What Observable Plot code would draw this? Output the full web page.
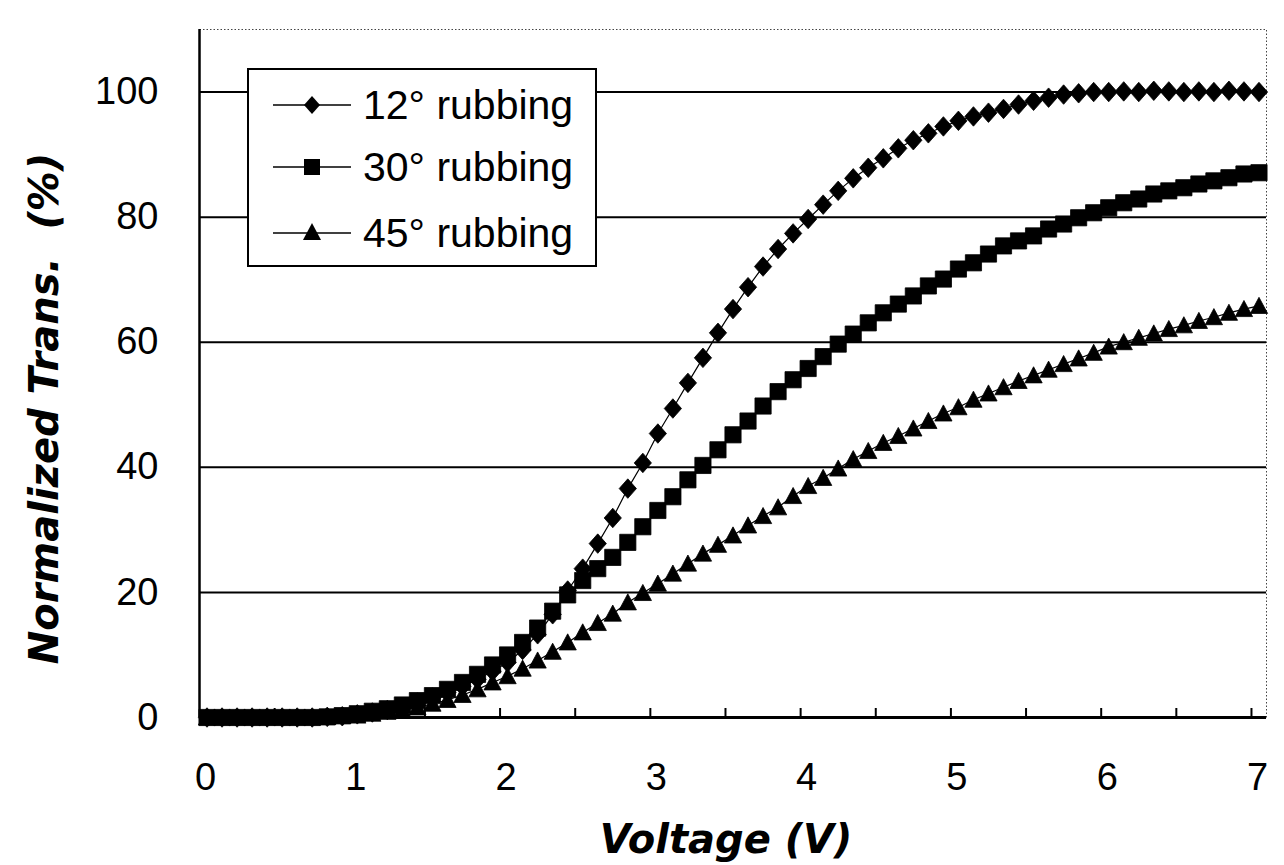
<!DOCTYPE html>
<html>
<head>
<meta charset="utf-8">
<script src="https://cdn.jsdelivr.net/npm/d3@7"></script>
<script src="https://cdn.jsdelivr.net/npm/@observablehq/plot@0.6"></script>
<style>
  body { margin: 0; background: #fff; }
  #wrap { position: relative; width: 1284px; height: 865px; }
  #legend {
    position: absolute; left: 247px; top: 68px; width: 346px; height: 195px;
    border: 2px solid #000; background: #fff;
    font-family: "Liberation Sans", Arial, sans-serif; font-size: 41px; color: #000;
  }
  .item { position: absolute; left: 24px; height: 48px; display: flex; align-items: center; white-space: nowrap; }
  .item svg { margin-right: 12px; }
</style>
</head>
<body>
<div id="wrap"></div>
<script>
// ---- data ----
const voltage = d3.range(71).map(i => Math.round((0.05 + 0.1 * i) * 100) / 100);

const rub12 = [
  0, 0, 0, 0, 0, 0, 0, 0, 0.1, 0.2,
  0.5, 0.8, 1.2, 1.7, 2.4, 3.2, 4.0, 5.0, 6.1, 7.4,
  8.8, 10.8, 13.3, 16.5, 20.3, 23.8, 27.8, 31.9, 36.6, 40.7,
  45.4, 49.4, 53.5, 57.5, 61.5, 65.3, 68.8, 72.1, 74.9, 77.4,
  79.7, 82.0, 84.2, 86.2, 87.9, 89.4, 91.0, 92.3, 93.4, 94.5,
  95.4, 96.1, 96.7, 97.3, 98.0, 98.6, 99.1, 99.6, 99.8, 100.0,
  100.0, 100.1, 100.0, 100.2, 100.1, 100.0, 100.1, 100.0, 100.2, 100.1, 100.0
];
const rub30 = [
  0, 0, 0, 0, 0, 0, 0, 0, 0.1, 0.3,
  0.6, 1.0, 1.4, 2.0, 2.7, 3.5, 4.5, 5.6, 6.9, 8.4,
  10.0, 12.0, 14.3, 17.0, 19.6, 21.9, 23.8, 25.6, 28.0, 30.5,
  33.1, 35.3, 38.0, 40.3, 42.8, 45.2, 47.4, 49.8, 52.1, 54.0,
  55.8, 57.7, 59.7, 61.3, 63.1, 64.7, 66.1, 67.4, 69.0, 70.1,
  71.7, 72.7, 74.1, 75.4, 76.2, 77.0, 78.1, 78.9, 79.9, 80.7,
  81.5, 82.3, 82.9, 83.7, 84.2, 84.7, 85.3, 85.8, 86.3, 86.9, 87.1
];
const rub45 = [
  0, 0, 0, 0, 0, 0, 0, 0, 0.1, 0.2,
  0.3, 0.6, 0.9, 1.2, 1.6, 2.2, 2.8, 3.6, 4.5, 5.6,
  6.6, 7.8, 9.1, 10.5, 12.0, 13.6, 15.1, 16.6, 18.4, 19.9,
  21.4, 23.0, 24.6, 26.2, 27.6, 29.1, 30.7, 32.2, 33.6, 35.4,
  37.0, 38.3, 39.8, 41.3, 42.6, 43.9, 45.0, 46.2, 47.4, 48.6,
  49.6, 50.8, 51.8, 52.8, 53.8, 54.7, 55.6, 56.5, 57.4, 58.3,
  59.3, 60.0, 60.7, 61.4, 62.1, 62.7, 63.4, 64.0, 64.7, 65.3, 65.8
];
const seriesNames = ["12° rubbing", "30° rubbing", "45° rubbing"];
const xTickLabels = [0, 1, 2, 3, 4, 5, 6, 7];
const xTickMarks = [0.5, 1, 1.5, 2, 2.5, 3, 3.5, 4, 4.5, 5, 5.5, 6, 6.5, 7];
const yTickLabels = [0, 20, 40, 60, 80, 100];
const yGridLines = [20, 40, 60, 80, 100];
const xTitle = "Voltage (V)";
const yTitle = "Normalized Trans.  (%)";

// ---- marker symbols ----
const diamondSym = { draw(ctx, size) { const r = Math.sqrt(size / Math.PI); const w = r * 1.15, h = r * 1.3;
  ctx.moveTo(0, -h); ctx.lineTo(w, 0); ctx.lineTo(0, h); ctx.lineTo(-w, 0); ctx.closePath(); } };
const squareSym = { draw(ctx, size) { const r = Math.sqrt(size / Math.PI); const s = r * 1.08;
  ctx.moveTo(-s, -s); ctx.lineTo(s, -s); ctx.lineTo(s, s); ctx.lineTo(-s, s); ctx.closePath(); } };
const triangleSym = { draw(ctx, size) { const r = Math.sqrt(size / Math.PI); const w = r * 1.15;
  ctx.moveTo(0, -r * 1.15); ctx.lineTo(w, r); ctx.lineTo(-w, r); ctx.closePath(); } };
const symbols = [diamondSym, squareSym, triangleSym];
const values = [rub12, rub30, rub45];

const rows = seriesNames.map((name, s) => voltage.map((v, i) => ({ series: name, v, t: values[s][i] })));

const seriesMarks = [2, 1, 0].flatMap(s => [
  Plot.line(rows[s], { x: "v", y: "t", stroke: "#000", strokeWidth: 1.2 }),
  Plot.dot(rows[s], { x: "v", y: "t", symbol: symbols[s], r: 7.5, fill: "#000", stroke: "#000", strokeWidth: 0.8 })
]);

const tickFont = "'Liberation Sans', Arial, sans-serif";
const titleFont = "'DejaVu Sans', sans-serif";

const chart = Plot.plot({
  width: 1284,
  height: 865,
  marginLeft: 199,
  marginRight: 18,
  marginTop: 29,
  marginBottom: 148,
  style: { background: "#fff", color: "#000", fontFamily: tickFont },
  x: { domain: [0, 7.1] },
  y: { domain: [0, 110] },
  marks: [
    Plot.frame({ stroke: "#444", strokeWidth: 1, strokeDasharray: "1.5,2" }),
    Plot.ruleY(yGridLines, { stroke: "#000", strokeWidth: 2 }),
    ...seriesMarks,
    Plot.ruleX([0], { stroke: "#000", strokeWidth: 2.5 }),
    Plot.ruleY([0], { stroke: "#000", strokeWidth: 3 }),
    Plot.axisX({ ticks: xTickMarks, tickSize: -9, tickFormat: () => "", strokeWidth: 2, label: null }),
    Plot.axisX({ ticks: xTickLabels, tickSize: 0, tickPadding: 46, dx: 6, fontSize: 38, fontFamily: tickFont, label: null }),
    Plot.axisY({ ticks: yTickLabels, tickSize: 0, tickPadding: 41, fontSize: 38, fontFamily: tickFont, label: null }),
    Plot.text([xTitle], { frameAnchor: "bottom", textAnchor: "middle", dx: -7, dy: 135, fontSize: 40, fontWeight: "bold", fontStyle: "italic", fontFamily: titleFont, fill: "#000" }),
    Plot.text([yTitle], { frameAnchor: "left", textAnchor: "middle", lineAnchor: "middle", rotate: -90, dx: -154, dy: 35, fontSize: 40, fontWeight: "bold", fontStyle: "italic", fontFamily: titleFont, fill: "#000" })
  ]
});

const wrap = document.getElementById("wrap");
wrap.appendChild(chart);

// ---- legend ----
const legend = document.createElement("div");
legend.id = "legend";
const legendCenters = [35, 97, 163];
const legendShapes = [
  '<polygon points="39,3 47,12 39,21 31,12" fill="#000"/>',
  '<rect x="31" y="4" width="16" height="16" fill="#000"/>',
  '<polygon points="39,2 48,19 30,19" fill="#000"/>'
];
seriesNames.forEach((name, i) => {
  const item = document.createElement("div");
  item.className = "item";
  item.style.top = (legendCenters[i] - 24) + "px";
  item.innerHTML = `<svg width="78" height="24" viewBox="0 0 78 24"><line x1="0" y1="12" x2="78" y2="12" stroke="#000" stroke-width="1.5"/>${legendShapes[i]}</svg><span>${name}</span>`;
  legend.appendChild(item);
});
wrap.appendChild(legend);
</script>
</body>
</html>
